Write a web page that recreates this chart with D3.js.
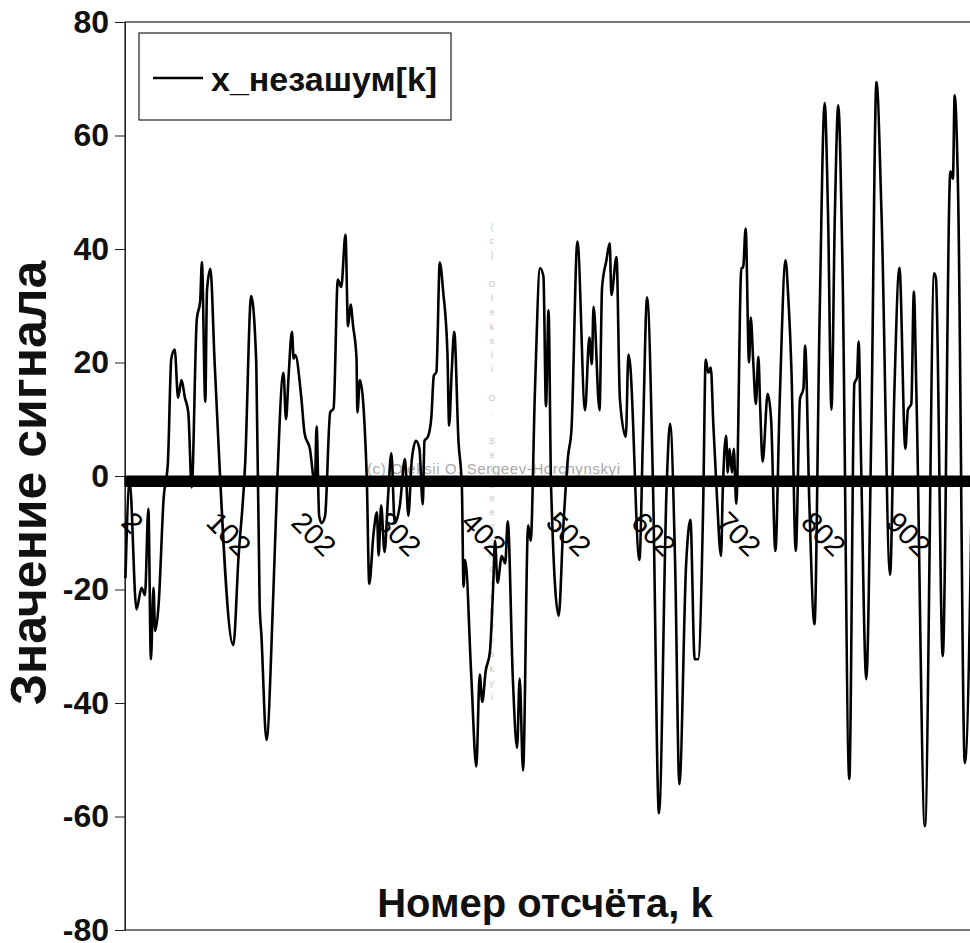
<!DOCTYPE html>
<html>
<head>
<meta charset="utf-8">
<script src="https://cdn.jsdelivr.net/npm/d3@7"></script>
<style>
  body { margin: 0; background: #fff; }
  text { font-family: "Liberation Sans", Arial, sans-serif; }
</style>
</head>
<body>
<div id="chart"></div>
<script>
// sample numbers (k) of the turning points
const sampleK = [
  1, 6, 14, 20, 24, 28, 31, 34, 36, 40, 46, 51, 55, 59, 63, 67, 71, 75, 79, 85,
  89, 91, 95, 97, 101, 106, 128, 134, 142, 149, 155, 159, 161, 167, 175, 179, 187, 190, 193, 197,
  199, 201, 208, 212, 218, 224, 226, 229, 232, 236, 242, 246, 251, 255, 260, 263, 266, 269, 273, 274,
  277, 285, 288, 293, 297, 299, 302, 306, 310, 314, 318, 324, 330, 334,
  338, 343, 347, 351, 353, 357, 361, 364, 367, 371, 375, 380, 382, 385, 388, 393, 397, 399, 401, 408,
  414, 418, 421, 425, 430, 434, 436, 439, 444, 448, 451, 457, 462, 465, 469, 475, 478, 483, 489, 493,
  496, 499, 502, 511, 516, 522, 526, 533, 542, 547, 550, 552, 559, 562, 567, 571, 573, 579, 583, 590,
  593, 595, 606, 610, 615, 622, 629, 638, 642, 648, 653, 661, 666, 671, 675, 681,
  684, 687, 690, 693, 697, 702, 704, 708, 710, 712, 715, 717, 720, 726, 728, 731, 735, 737, 740, 743,
  746, 748, 751, 757, 761, 766, 771, 778, 781, 785, 790, 795, 799, 801, 806, 812, 818, 824, 828, 832,
  836, 840, 845, 853, 859, 862, 864, 867, 873, 879, 885, 891, 901, 906, 912, 919, 922, 926, 929, 932,
  942, 953, 955, 963, 972, 975, 977, 981, 989, 1000
];
// x_незашум[k] at those samples
const signalVals = [
  -18, -1, -23.5, -19.7, -21, -5.8, -32.3, -19.7, -27.3, -22.8, -3.9, 2.4, 20.7, 22.3, 13.8, 16.9, 13.8, 11.2, -2, 27.6,
  30.8, 37.7, 13.1, 32.7, 36.5, 20, -29.8, -14.6, 2.4, 31.7, 20, -22.8, -27.9, -46.5, -21, -3.9, 18.2, 10, 17.5, 25.4,
  20.7, 21.3, 13.8, 7.4, 4.9, -1.4, 8.7, -7, -8.3, -7, 11.2, 11.9, 34.6, 33.3, 42.5, 26.4, 30.2, 26.4, 20.7, 11.2,
  16.9, 0, -19, -10.2, -6.4, -14, -5.2, -13.4, -3.9, 4, -8.3, -5.2, 3, -7,
  2.8, 6.2, 4.8, -5, 6.2, 6.9, 10.2, 17.7, 18.3, 37.6, 32.5, 21.7, 8.9, 18.3, 25.4, 6.2, -1.9, -19.5, -14.8, -35,
  -51.2, -35, -39.8, -34.4, -31, -18.8, -11.4, -18.8, -14.1, -15.4, -8, -35.7, -47.9, -35.7, -51.9, -8.7, -11.4, 15, 36.6, 35.2,
  12.3, 29.2, -1.9, -24.6, -10, 3.5, 8.2, 41.3, 11.6, 24.4, 19.7, 29.8, 11.6, 33.2, 37.9, 41, 31.9, 38.6, 13.6, 6.9,
  21.4, 19.7, -14.8, 6.2, 31.5, -1.9, -59.4, -1.9, 9.2, -15.4, -54.3, -15.4, -7.7, -32.3, -32.3, -5.3,
  20.5, 18.2, 19.1, 9, -3, -14.1, -3, 7.1, 0.6, 4.8, 0.6, 4.8, -4.9, 36.7, 36.7, 43.6, 20, 27.9, 20, 12.7,
  21, 12.7, 2.5, 14.5, 9.9, -13.2, 12.7, 38, 32, 18.2, -13.2, 13.6, 15.4, 23, -4.9, -26.1, 27.4, 65.7, 45.9, 11.7,
  45.9, 65.3, 36.7, -53.4, 16.3, 17.3, 23.7, 1.6, -35.8, 9, 69.4, 45.9, -17.4, 14.5, 36.7, 4.8, 11.7, 12.7, 32.5, 14.5,
  -61.7, 35.7, 34.8, -31.7, 53.7, 52.4, 67.1, 50.5, -50.6, 25
];
const sampleCount = 1024;
const yTicks = [-80, -60, -40, -20, 0, 20, 40, 60, 80];
const xTickLabels = [2, 102, 202, 302, 402, 502, 602, 702, 802, 902];
const seriesName = 'x_незашум[k]';
const xTitle = 'Номер отсчёта, k';
const yTitle = 'Значение сигнала';
const watermark = '(c) Oleksii O. Sergeev-Horchynskyi';

const width = 970, height = 943;
const margin = { top: 22, left: 125 };
const plotW = 870, plotH = 908;

const svg = d3.select('#chart').append('svg')
  .attr('width', width).attr('height', height);

const x = d3.scaleLinear().domain([0.5, sampleCount + 0.5]).range([margin.left, margin.left + plotW]);
const y = d3.scaleLinear().domain([-80, 80]).range([margin.top + plotH, margin.top]);

// plot frame
svg.append('rect')
  .attr('x', x.range()[0]).attr('y', y(80))
  .attr('width', plotW).attr('height', y(-80) - y(80))
  .attr('fill', 'none').attr('stroke', '#222').attr('stroke-width', 1.2);

// y axis
const yAxis = svg.append('g')
  .attr('transform', `translate(${margin.left},0)`)
  .call(d3.axisLeft(y).tickValues(yTicks).tickSize(10).tickPadding(6).tickFormat(d => String(d)));
yAxis.select('.domain').attr('stroke', '#222');
yAxis.selectAll('.tick line').attr('stroke', '#222');
yAxis.selectAll('text')
  .attr('font-size', 32).attr('font-weight', 'bold').attr('fill', '#111')
  .style('font-family', '"Liberation Sans", Arial, sans-serif');

// watermark
svg.append('text')
  .attr('x', 367).attr('y', 474)
  .attr('font-size', 15).attr('fill', '#a8a8a8')
  .attr('textLength', 253)
  .text(watermark);
const wmChars = watermark.split('');
const wmY = d3.scalePoint().domain(d3.range(wmChars.length)).range([230, 700]);
svg.append('g').selectAll('text').data(wmChars).join('text')
  .attr('x', 492).attr('y', (d, i) => wmY(i))
  .attr('text-anchor', 'middle')
  .attr('font-size', 9).attr('fill', '#c4c4c4')
  .text(d => d);

// signal
const line = d3.line()
  .x((d, i) => x(sampleK[i]))
  .y(d => y(d))
  .curve(d3.curveMonotoneX);
svg.append('path')
  .datum(signalVals)
  .attr('fill', 'none')
  .attr('stroke', '#000')
  .attr('stroke-width', 2.6)
  .attr('stroke-linejoin', 'round')
  .attr('d', line);

// x axis on the zero line: one tick per sample
const xAxis = svg.append('g')
  .attr('transform', `translate(0,${y(0)})`)
  .call(d3.axisBottom(x).tickValues(d3.range(1, sampleCount + 1)).tickSize(11).tickFormat(''));
xAxis.select('.domain').attr('stroke', '#000').attr('stroke-width', 2);
xAxis.selectAll('.tick line').attr('stroke', '#000').attr('stroke-width', 1.6);

const xLabels = svg.append('g')
  .attr('transform', `translate(0,${y(0)})`)
  .call(d3.axisBottom(x).tickValues(xTickLabels).tickSize(0));
xLabels.select('.domain').remove();
xLabels.selectAll('text')
  .attr('x', 0).attr('y', 0).attr('dy', 0)
  .attr('text-anchor', 'start')
  .attr('transform', 'translate(-7,48) rotate(45)')
  .attr('font-size', 29).attr('fill', '#000')
  .style('font-family', '"Liberation Sans", Arial, sans-serif');

// titles
svg.append('text')
  .attr('transform', 'translate(46,483) rotate(-90)')
  .attr('text-anchor', 'middle')
  .attr('font-size', 50).attr('font-weight', 'bold').attr('fill', '#111')
  .text(yTitle);
svg.append('text')
  .attr('x', 545).attr('y', 917)
  .attr('text-anchor', 'middle')
  .attr('font-size', 40).attr('font-weight', 'bold').attr('fill', '#111')
  .text(xTitle);

// legend
const legend = svg.append('g');
legend.append('rect')
  .attr('x', 139).attr('y', 33).attr('width', 312).attr('height', 87)
  .attr('fill', '#fff').attr('stroke', '#222').attr('stroke-width', 1.2);
legend.append('line')
  .attr('x1', 153).attr('x2', 203).attr('y1', 78).attr('y2', 78)
  .attr('stroke', '#000').attr('stroke-width', 2.5);
legend.append('text')
  .attr('x', 211).attr('y', 91)
  .attr('font-size', 34).attr('font-weight', 'bold').attr('fill', '#111')
  .text(seriesName);
</script>
</body>
</html>
